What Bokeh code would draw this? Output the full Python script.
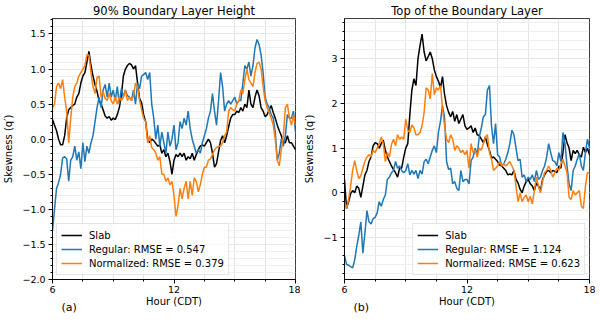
from bokeh.plotting import figure
from bokeh.layouts import row
from bokeh.models import (FixedTicker, Legend, LegendItem, Label, Range1d,
                          CustomJSTickFormatter, ColumnDataSource)
from bokeh.embed import file_html
from bokeh.resources import INLINE

# ---------------- data (every 0.1 h) ----------------
hours = [round(6 + 0.1 * i, 1) for i in range(121)]

a_slab = [0.28, 0.2, 0.12, 0.0, -0.08, -0.08, 0.05, 0.3, 0.42, 0.45,
          0.48, 0.5, 0.6, 0.65, 0.8, 0.9, 0.95, 1.1, 1.25, 1.05,
          0.9, 0.78, 0.68, 0.55, 0.5, 0.42, 0.33, 0.3, 0.32, 0.27,
          0.3, 0.28, 0.35, 0.45, 0.62, 0.9, 1.0, 1.05, 1.08, 1.06,
          1.0, 1.05, 0.8, 0.58, 0.52, 0.35, 0.25, 0.0, -0.05, 0.0,
          -0.02, -0.06, -0.1, -0.08, -0.2, -0.15, -0.25, -0.2, -0.32, -0.5,
          -0.3, -0.22, -0.25, -0.2, -0.25, -0.2, -0.3, -0.25, -0.28, -0.2,
          -0.3, -0.22, -0.15, -0.1, -0.08, -0.1, -0.05, 0.0, -0.05, -0.2,
          -0.4, -0.35, -0.18, -0.02, 0.05, -0.05, 0.05, 0.18, 0.3, 0.35,
          0.35, 0.4, 0.38, 0.45, 0.4, 0.5, 0.45, 0.7, 0.5, 0.45,
          0.6, 0.7, 0.62, 0.45, 0.4, 0.32, 0.35, 0.42, 0.48, 0.38,
          0.3, 0.2, 0.12, 0.05, -0.05, -0.05, 0.05, -0.05, -0.05, -0.1,
          -0.15]
a_regular = [-1.3, -1.0, -0.7, -0.62, -0.5, -0.27, -0.25, -0.28, -0.6, -0.3,
             -0.25, -0.1, -0.3, -0.18, -0.42, -0.05, -0.32, -0.1, -0.2, -0.05,
             0.05, 0.25, 0.45, 0.6, 0.45, 0.7, 0.78, 0.6, 0.8, 0.6,
             0.7, 0.55, 0.75, 0.5, 0.72, 0.6, 0.7, 0.62, 0.6, 0.55,
             0.7, 0.5, 0.8, 0.72, 0.9, 0.92, 0.95, 0.85, 0.95, 0.5,
             0.3, 0.0, 0.2, -0.1, 0.1, -0.05, -0.2, 0.1, -0.1, 0.0,
             0.2, -0.15, -0.05, 0.25, 0.15, 0.3, 0.2, 0.4, 0.15, 0.0,
             -0.1, -0.2, -0.15, -0.2, -0.05, 0.05, 0.15, 0.3, 0.4, 0.65,
             0.4, 0.2, 0.55, 0.95, 0.75, 0.4, 0.5, 0.55, 0.5, 0.55,
             0.6, 0.5, 0.55, 0.55, 0.8, 1.05, 1.0, 1.1, 0.9, 1.05,
             1.3, 1.42, 1.35, 1.2, 0.95, 0.6, 0.5, 0.45, 0.35, 0.3,
             0.1, -0.3, -0.2, 0.0, -0.1, 0.05, 0.35, 0.3, 0.3, 0.4,
             0.1]
a_normalized = [0.45, 0.5, 0.75, 0.8, 0.72, 0.85, 0.6, 0.4, -0.05, 0.3,
                0.6, 0.75, 0.8, 0.9, 0.95, 1.0, 1.05, 1.2, 1.2, 0.95,
                0.75, 0.65, 0.88, 0.9, 0.6, 0.68, 0.58, 0.55, 0.65, 0.55,
                0.5, 0.6, 0.5, 0.6, 0.55, 0.6, 0.7, 0.55, 0.6, 0.55,
                0.62, 0.8, 0.75, 0.55, 0.42, 0.3, 0.25, -0.05, 0.05, -0.12,
                -0.15, -0.2, -0.3, -0.25, -0.5, -0.5, -0.6, -0.55, -0.65, -0.6,
                -0.8, -1.1, -0.95, -0.7, -0.85, -0.7, -0.6, -0.85, -0.6, -0.8,
                -0.55, -0.6, -0.75, -0.65, -0.5, -0.4, -0.4, -0.3, -0.28, -0.22,
                -0.15, -0.12, -0.1, -0.1, -0.05, 0.05, 0.1, 0.4, 0.45, 0.42,
                0.4, 0.5, 0.55, 0.7, 0.65, 0.85, 1.0, 0.85, 0.8, 0.75,
                0.95, 1.08, 1.1, 1.0, 0.75, 0.55, 0.45, 0.38, 0.3, 0.2,
                0.0, -0.3, -0.38, -0.15, 0.05, 0.45, 0.5, 0.3, 0.2, 0.35,
                0.2]

b_slab = [0.3, -0.35, -0.2, -0.02, 0.05, 0.0, 0.15, 0.1, -0.1, 0.15,
          0.4, 0.5, 0.7, 0.8, 1.05, 1.12, 1.1, 1.0, 1.1, 1.18,
          0.95, 0.8, 0.7, 0.6, 0.52, 0.45, 0.35, 0.55, 0.55, 0.8,
          1.0, 1.1, 1.75, 2.3, 2.55, 2.4, 3.0, 3.3, 3.55, 3.15,
          2.95, 3.05, 3.15, 3.0, 2.75, 2.6, 2.5, 2.35, 2.6, 2.2,
          1.95, 1.8, 1.7, 1.82, 1.6, 1.75, 1.55, 1.65, 1.75, 1.5,
          1.42, 1.45, 1.5, 1.35, 1.45, 1.3, 1.28, 1.2, 1.12, 1.25,
          1.08, 0.95, 0.78, 0.8, 0.75, 0.7, 0.62, 0.6, 0.55, 0.5,
          0.4, 0.42, 0.4, 0.5, 0.3, 0.22, 0.08, 0.0, 0.15, 0.25,
          0.3, 0.2, 0.15, 0.05, 0.22, 0.15, 0.05, 0.3, 0.4, 0.48,
          0.5, 0.45, 0.5, 0.48, 0.45, 0.6, 0.55, 0.9, 1.3, 1.12,
          1.0, 0.72, 0.95, 0.88, 0.95, 0.85, 0.8, 1.02, 0.9, 1.0,
          0.85]
b_regular = [-1.4, -1.6, -1.62, -1.65, -1.68, -1.5, -1.2, -0.95, -0.65, -1.35,
             -0.9, -0.4, -0.65, -0.7, -0.58, -0.55, -0.45, -0.2, -0.3, -0.15,
             -0.05, 0.3, 0.35, 0.45, 0.5, 0.7, 0.55, 0.6, 0.5, 0.45,
             0.5, 0.65, 0.4, 0.5, 0.42, 0.5, 0.32, 0.5, 0.42, 0.7,
             0.75, 0.65, 0.8, 0.95, 1.05, 0.9, 1.35, 1.6, 1.95, 1.7,
             0.7, 0.52, 0.55, 0.2, 0.25, 0.1, 0.05, 0.5, 0.25, 0.3,
             0.3, 0.2, 0.72, 0.8, 1.0, 0.85, 1.25, 1.45, 1.7, 1.75,
             2.3, 2.4, 1.5, 1.1, 1.55, 0.85, 0.8, 0.6, 0.65, 0.75,
             0.9, 1.1, 1.4, 1.3, 1.0, 0.72, 0.75, 0.35, 0.4, 0.25,
             0.35, 0.3, 0.4, 0.25, 0.5, 0.3, 0.35, 0.5, 0.6, 0.8,
             1.1, 0.9, 0.72, 0.7, 0.6, 0.9, 0.7, 1.35, 1.1, 0.6,
             0.2, 0.05, 0.5, 0.6, 0.75, 0.88, 0.6, 0.5, 0.9, 1.2,
             1.0]
b_normalized = [-0.2, -0.35, -0.15, 0.15, 0.5, 0.72, 0.5, 0.32, 0.38, 0.55,
                0.7, 0.8, 0.85, 0.8, 0.95, 0.9, 1.0, 1.1, 1.25, 1.1,
                0.7, 0.9, 0.8, 1.08, 1.2, 1.05, 1.3, 1.2, 1.25, 1.2,
                1.65, 1.4, 1.35, 1.52, 1.45, 1.3, 1.3, 1.35, 1.5, 1.8,
                2.35, 2.3, 2.1, 2.67, 2.2, 2.35, 2.3, 2.4, 1.9, 1.5,
                1.2, 1.12, 1.3, 1.2, 0.95, 1.05, 1.0, 0.9, 0.95, 0.85,
                0.95, 0.55, 1.1, 0.9, 0.95, 0.8, 1.0, 0.95, 1.1, 1.25,
                1.3, 0.9, 0.75, 0.5, 0.55, 0.6, 0.7, 0.6, 0.65, 0.6,
                0.65, 0.7, 0.6, 0.5, 0.15, -0.2, 0.0, -0.2, -0.1, -0.05,
                -0.2, -0.08, -0.25, 0.05, 0.35, 0.15, 0.0, 0.25, 0.45, 0.5,
                0.6, 0.5, 0.35, 0.45, 0.55, 0.5, 0.65, 0.75, 0.6, 0.45,
                -0.1, -0.15, 0.05, -0.05, 0.0, 0.05, -0.3, -0.35, 0.15, 0.45,
                0.45]

series_names = ["Slab", "Regular", "Normalized"]
rmse_a = [0.547, 0.379]
rmse_b = [1.124, 0.623]
titles = ["90% Boundary Layer Height", "Top of the Boundary Layer"]
panel_tags = ["(a)", "(b)"]
x_ticks = [6, 12, 18]
a_yticks = [-2.0, -1.5, -1.0, -0.5, 0.0, 0.5, 1.0, 1.5]
b_yticks = [-1, 0, 1, 2, 3]

COLORS = ["#000000", "#1f77b4", "#ff7f0e"]
FONT = "DejaVu Sans"


def make_panel(title, tag, slab, reg, norm, rmse, yticks, yminor, yrange,
               ydigits, border_left, border_right):
    p = figure(width=300, height=322, output_backend="svg", toolbar_location=None,
               x_range=Range1d(6, 18), y_range=Range1d(*yrange),
               min_border_left=border_left, min_border_right=border_right,
               min_border_top=2, min_border_bottom=0)
    p.title.text = title
    p.title.text_font = FONT
    p.title.text_font_size = "11.5px"
    p.title.text_font_style = "normal"
    p.title.align = "center"
    p.title.text_color = "#000000"
    p.title.offset = 0
    p.title.standoff = 2

    p.outline_line_color = "#000000"
    p.outline_line_alpha = 0.85
    p.outline_line_width = 0.9
    p.background_fill_color = "white"
    p.border_fill_color = "white"

    xminor = [7.5, 9, 10.5, 13.5, 15, 16.5]
    p.xaxis.ticker = FixedTicker(ticks=x_ticks, minor_ticks=xminor)
    p.yaxis.ticker = FixedTicker(ticks=yticks, minor_ticks=yminor)
    p.xaxis.formatter = CustomJSTickFormatter(code="return tick.toFixed(0);")
    p.yaxis.formatter = CustomJSTickFormatter(
        code="return tick.toFixed(%d).replace('-', '\u2212');" % ydigits)

    for ax in (p.xaxis[0], p.yaxis[0]):
        ax.axis_line_color = "#000000"
        ax.axis_line_alpha = 0.85
        ax.major_tick_line_color = "#000000"
        ax.minor_tick_line_color = "#000000"
        ax.major_tick_out = 4
        ax.major_tick_in = 0
        ax.minor_tick_out = 2
        ax.minor_tick_in = 0
        ax.major_label_text_font = FONT
        ax.major_label_text_font_size = "9.5px"
        ax.major_label_text_color = "#000000"
        ax.major_label_standoff = 3
        ax.axis_label_text_font = FONT
        ax.axis_label_text_font_size = "10px"
        ax.axis_label_text_font_style = "normal"
        ax.axis_label_text_color = "#000000"
    p.xaxis.axis_label = "Hour (CDT)"
    p.yaxis.axis_label = "Skewness (q\u2032)"
    p.yaxis.axis_label_standoff = 5
    p.xaxis.axis_label_standoff = 0
    p.xaxis.major_label_standoff = 2

    p.xgrid.grid_line_color = "#e4e4e4"
    p.xgrid.minor_grid_line_color = "#e4e4e4"
    p.ygrid.grid_line_color = "#e4e4e4"
    p.ygrid.minor_grid_line_color = "#efefef"
    p.xgrid.grid_line_width = 0.8
    p.ygrid.grid_line_width = 0.8

    src = ColumnDataSource(dict(h=hours, s=slab, r=reg, n=norm))
    r1 = p.line("h", "s", source=src, color=COLORS[0], line_width=1.5)
    r2 = p.line("h", "r", source=src, color=COLORS[1], line_width=1.5)
    r3 = p.line("h", "n", source=src, color=COLORS[2], line_width=1.5)

    labels = [series_names[0],
              "%s: RMSE = %.3f" % (series_names[1], rmse[0]),
              "%s: RMSE = %.3f" % (series_names[2], rmse[1])]
    legend = Legend(items=[LegendItem(label=labels[0], renderers=[r1]),
                           LegendItem(label=labels[1], renderers=[r2]),
                           LegendItem(label=labels[2], renderers=[r3])],
                    location="bottom_left" if tag == "(a)" else "bottom_right")
    legend.label_text_font = FONT
    legend.label_text_font_size = "10px"
    legend.label_text_color = "#000000"
    legend.glyph_width = 21
    legend.glyph_height = 14
    legend.label_height = 14
    legend.label_standoff = 7
    legend.spacing = 0
    legend.padding = 4
    legend.margin = 4
    legend.border_line_color = "#cccccc"
    legend.border_line_width = 1
    legend.background_fill_color = "white"
    legend.background_fill_alpha = 0.8
    p.add_layout(legend)

    # panel tag in a side panel below the x axis, lifted beside the axis title
    p.add_layout(Label(x=9, y=15, x_units="screen", y_units="screen", text=tag,
                       text_font=FONT, text_font_size="11px",
                       text_baseline="middle", text_color="#000000"), "below")
    return p


a_minor = [round(-2.0 + 0.1 * k, 1) for k in range(38)]
b_minor = [round(-1.8 + 0.2 * k, 1) for k in range(29)]

p1 = make_panel(titles[0], panel_tags[0], a_slab, a_regular, a_normalized, rmse_a,
                a_yticks, a_minor, (-2.0, 1.72), 1, 50, 5)
p2 = make_panel(titles[1], panel_tags[1], b_slab, b_regular, b_normalized, rmse_b,
                b_yticks, b_minor, (-1.94, 3.9), 0, 44, 11)

layout = row(p1, p2)
open("out.html", "w").write(file_html(layout, INLINE))
